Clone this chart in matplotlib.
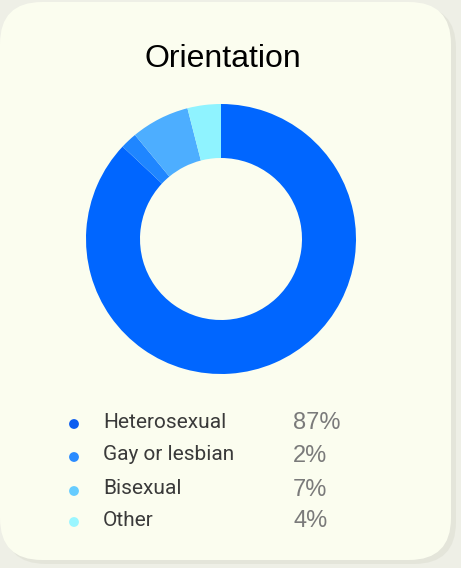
import matplotlib.pyplot as plt
from matplotlib.patches import FancyBboxPatch

categorias = ["Heterosexual", "Gay or lesbian", "Bisexual", "Other"]
percentuais = [87, 2, 7, 4]
cores_fatia = ["#0066FF", "#1F86FF", "#4DAEFF", "#8FF3FF"]
cores_ponto = ["#0A5CF0", "#2A8BFF", "#66CCFF", "#9AF6FF"]

W, H = 461, 568
fig = plt.figure(figsize=(W / 100, H / 100), dpi=100)
fig.patch.set_facecolor("#EEEFE6")

# fundo em coordenadas de pixel (y de cima para baixo)
bg = fig.add_axes([0, 0, 1, 1])
bg.set_xlim(0, W)
bg.set_ylim(H, 0)
bg.axis("off")

# sombra + cartão arredondado
bg.add_patch(FancyBboxPatch((4, 6), 452, 558, boxstyle="round,pad=0,rounding_size=42",
                            facecolor="#E2E3D8", edgecolor="none", alpha=0.8))
bg.add_patch(FancyBboxPatch((0, 2), 451, 558, boxstyle="round,pad=0,rounding_size=42",
                            facecolor="#FBFDEF", edgecolor="none"))

bg.text(223, 59, "Orientation", ha="center", va="center", fontsize=23,
        family="Liberation Sans", color="#000000")

# legenda
linhas_y = [422, 455, 489, 520]
for y, nome, p, c in zip(linhas_y, categorias, percentuais, cores_ponto):
    bg.scatter([74], [y + 2], s=50, color=c, edgecolors="none")
    bg.text(103, y, nome, ha="left", va="center", fontsize=15,
            family="Roboto", color="#3A3A3A")
    bg.text(293, y + 1, f"{p}%", ha="left", va="center", fontsize=17,
            family="Liberation Sans", color="#7A7A7A")

# rosca
cx, cy, r = 221, 239, 135
ax = fig.add_axes([(cx - r) / W, (H - cy - r) / H, 2 * r / W, 2 * r / H])
ax.pie(percentuais, colors=cores_fatia, startangle=90, counterclock=False,
       radius=1, wedgeprops=dict(width=0.4, edgecolor="none"))
ax.set_xlim(-1, 1)
ax.set_ylim(-1, 1)
ax.set_aspect("equal")
ax.axis("off")

fig.savefig("out.png", dpi=100, facecolor=fig.get_facecolor())
